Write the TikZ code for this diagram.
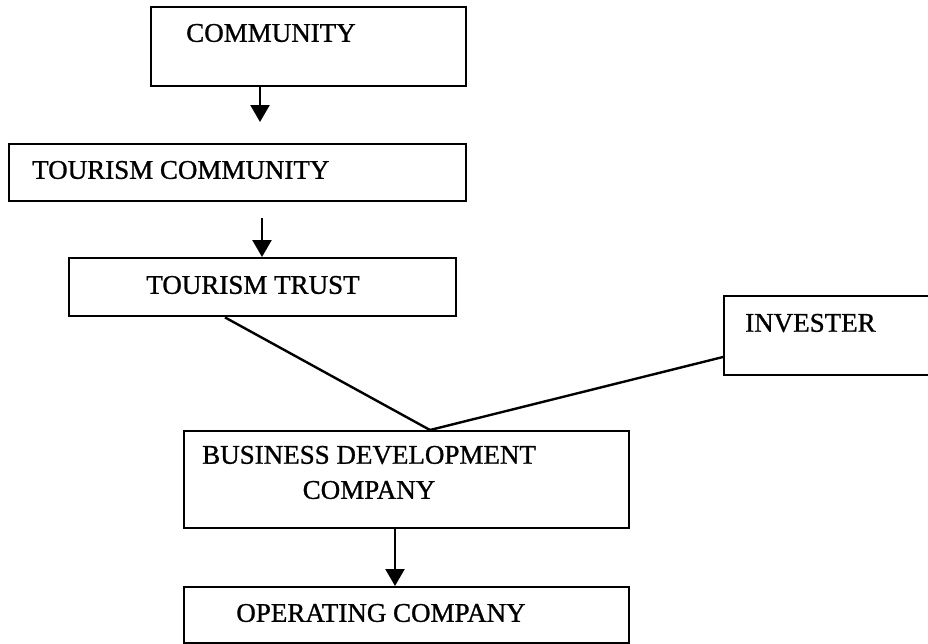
\documentclass[tikz,border=0pt]{standalone}
\usepackage{fontspec}
\setmainfont{Liberation Serif}[FakeBold=1]
\usetikzlibrary{arrows.meta}
\tikzset{
  box/.style={draw=black, line width=2.4pt, minimum width=#1, inner sep=0pt, anchor=north west},
  lbl/.style={font=\fontsize{27}{30}\selectfont, inner sep=0pt},
  conn/.style={line width=2.4pt},
  arr/.style={line width=2.4pt, -{Triangle[length=17pt,width=19pt]}}
}
\begin{document}
\begin{tikzpicture}[x=1pt,y=-1pt]
\useasboundingbox (0,0) rectangle (928,643);
% boxes
\node[box=315pt, minimum height=79pt] (comm) at (150,6) {};
\node[box=457pt, minimum height=57pt] (tc) at (8,143) {};
\node[box=387pt, minimum height=58pt] (tt) at (68,257) {};
\node[box=220pt, minimum height=79pt] (inv) at (723,295) {};
\node[box=445pt, minimum height=97pt] (bdc) at (183,430) {};
\node[box=445pt, minimum height=56pt] (op) at (183,586) {};
% labels
\node[lbl] (tcomm) at (271,33) {COMMUNITY};
\node[lbl, anchor=west] (ttc) at (32,170) {TOURISM COMMUNITY};
\node[lbl] (ttt) at (253,285) {TOURISM TRUST};
\node[lbl, anchor=west] (tinv) at (745,323) {INVESTER};
\node[lbl, anchor=west] (tbdc1) at (202,455) {BUSINESS DEVELOPMENT};
\node[lbl] (tbdc2) at (369,490) {COMPANY};
\node[lbl] (top) at (381,613) {OPERATING COMPANY};
% connectors
\coordinate (apex) at (430,430);
\coordinate (a1end) at (260,122);
\coordinate (a2start) at (262,218);
\draw[arr] (comm.south -| a1end) -- (a1end);
\draw[arr] (a2start) -- (tt.north -| a2start);
\draw[arr] (bdc.south -| 395,0) -- (op.north -| 395,0);
\draw[conn] (tt.south -| 225,0) -- (apex);
\draw[conn] (inv.west |- 0,357) -- (apex);
\end{tikzpicture}
\end{document}
